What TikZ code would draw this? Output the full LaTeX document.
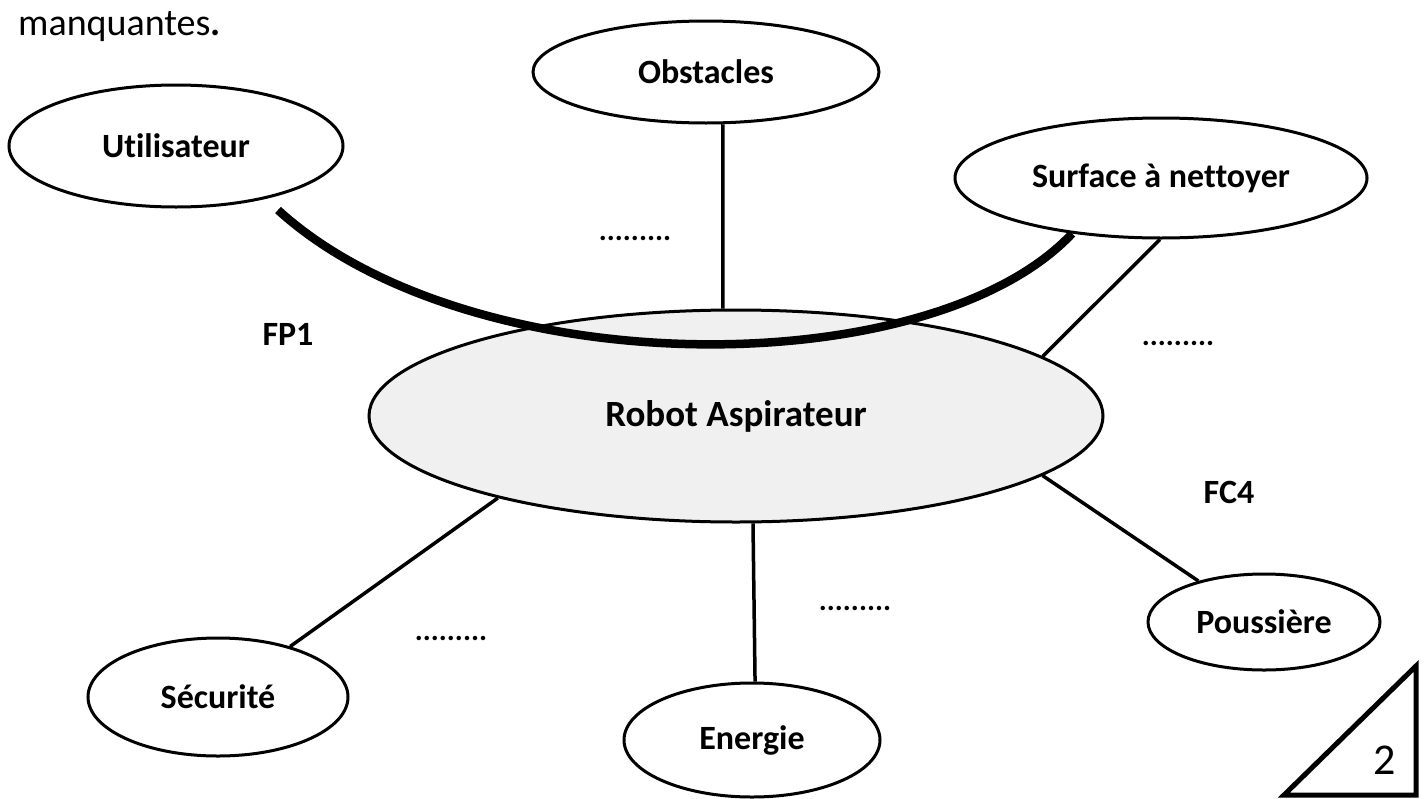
\documentclass[tikz,border=0pt]{standalone}
\usepackage{fontspec}
\setmainfont[Ligatures=NoCommon]{Carlito}
\usetikzlibrary{shapes.geometric}

\begin{document}
\begin{tikzpicture}[x=1pt,y=-1pt,
  ext/.style={ellipse,draw,line width=3pt,inner sep=0pt,font=\fontsize{34}{40}\selectfont\bfseries},
  link/.style={line width=3.5pt},
  lbl/.style={font=\fontsize{34}{40}\selectfont\bfseries},
  blank/.style={font=\fontsize{30}{36}\selectfont\bfseries}]
\useasboundingbox (0,0) rectangle (1427,798);
\node[anchor=base west,inner sep=0pt,font=\fontsize{38}{44}\selectfont] (consigne) at (18,35) {manquantes\textbf{.}};
% ---- milieux extérieurs ----
\node[ext,minimum width=334,minimum height=122] (user) at (176,146) {Utilisateur};
\node[ext,minimum width=346,minimum height=102] (obst) at (706,72) {Obstacles};
\node[ext,minimum width=412,minimum height=120] (surf) at (1161,178) {Surface à nettoyer};
\node[ext,minimum width=260,minimum height=118] (secu) at (218,697) {Sécurité};
\node[ext,minimum width=256,minimum height=114] (ener) at (752,740) {Energie};
\node[ext,minimum width=232,minimum height=96] (pous) at (1264,622) {Poussière};
% ---- produit ----
\node[ext,fill=black!6,minimum width=734,minimum height=212,font=\fontsize{37}{44}\selectfont\bfseries] (robot) at (736,416) {Robot Aspirateur};
% ---- liaisons ----
\coordinate (fp1a) at (278,210);
\draw[line width=8.5pt] (fp1a) .. controls (470,385) and (930,385) .. (surf.-148);
\draw[link] (obst.-72.6) -- (robot.97.5);
\draw[link] (surf.-91) -- (robot.11.9);
\draw[link] (robot.-11.2) -- (pous.148.6);
\draw[link] (robot.-81.5) -- (ener.87);
\draw[link] (robot.-161.3) -- (secu.35.5);
% ---- fonctions ----
\node[lbl] (fp1) at (288,334) {FP1};
\node[lbl] (fc4) at (1229,492) {FC4};
\node[blank] (f2) at (635,238) {.........};
\node[blank] (f3) at (1178,343) {.........};
\node[blank] (f5) at (451,638) {.........};
\node[blank] (f6) at (855,608) {.........};
% ---- barème ----
\draw[line width=5pt] (1284,795) -- (1416,666) -- (1416,795) -- cycle;
\node[font=\fontsize{44}{50}\selectfont] (pts) at (1385,760) {2};
\end{tikzpicture}
\end{document}
